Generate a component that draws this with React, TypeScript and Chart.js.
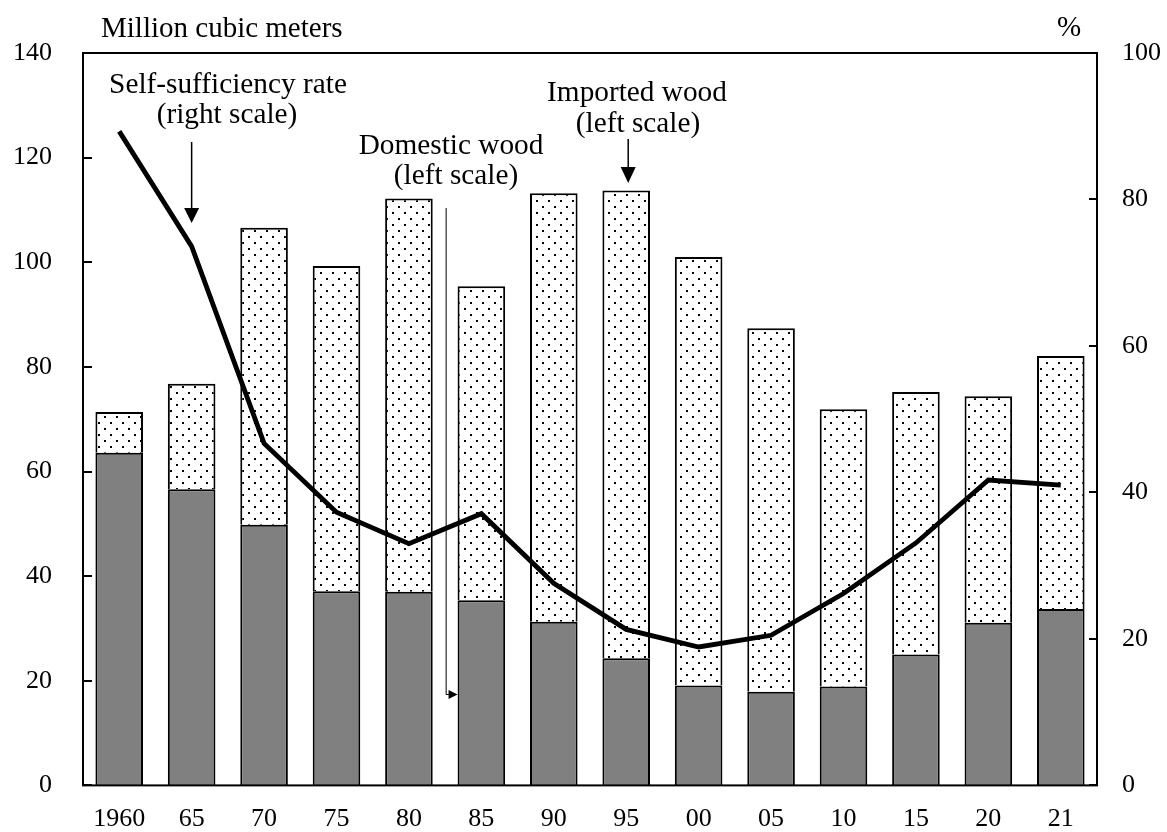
import React, { useEffect, useRef } from "react";
import { Chart, registerables } from "chart.js";

Chart.register(...registerables);

// ---- Data ----
const years = ["1960", "65", "70", "75", "80", "85", "90", "95", "00", "05", "10", "15", "20", "21"];
const domesticWood = [63.6, 56.6, 49.8, 37.1, 37.0, 35.4, 31.3, 24.3, 19.1, 17.9, 18.9, 25.0, 31.1, 33.7];
const importedWood = [7.8, 20.2, 56.8, 62.2, 75.2, 60.0, 81.9, 89.4, 81.9, 69.5, 53.0, 50.2, 43.3, 48.4];
const selfSufficiencyRate = [89.3, 73.6, 46.7, 37.3, 33.0, 37.1, 27.6, 21.3, 18.9, 20.5, 26.2, 33.1, 41.7, 41.0];
const leftAxis = { min: 0, max: 140, step: 20 };
const rightAxis = { min: 0, max: 100, step: 20 };
const leftUnit = "Million cubic meters";
const rightUnit = "%";

const FONT = "'Liberation Serif', 'Times New Roman', serif";

function makePattern(): CanvasPattern | string {
  const pc = document.createElement("canvas");
  pc.width = 12;
  pc.height = 12;
  const p = pc.getContext("2d");
  if (!p) return "#fff";
  p.fillStyle = "#fff";
  p.fillRect(0, 0, 12, 12);
  p.fillStyle = "#000";
  p.fillRect(2, 2, 2, 2);
  p.fillRect(8, 8, 2, 2);
  const pat = p.createPattern(pc, "repeat");
  return pat || "#fff";
}

function arrowDown(ctx: CanvasRenderingContext2D, x: number, y0: number, y1: number, lw: number, hw: number, hh: number) {
  ctx.lineWidth = lw;
  ctx.beginPath();
  ctx.moveTo(x, y0);
  ctx.lineTo(x, y1 - hh + 1);
  ctx.stroke();
  ctx.beginPath();
  ctx.moveTo(x - hw / 2, y1 - hh);
  ctx.lineTo(x + hw / 2, y1 - hh);
  ctx.lineTo(x, y1);
  ctx.closePath();
  ctx.fill();
}

const framePlugin = {
  id: "frameAndNotes",
  afterDatasetsDraw(chart: any) {
    const { ctx, chartArea: a, scales } = chart;
    ctx.save();
    ctx.strokeStyle = "#000";
    ctx.fillStyle = "#000";
    ctx.lineWidth = 2;
    ctx.strokeRect(a.left, a.top, a.right - a.left, a.bottom - a.top);
    // inward tick marks
    ctx.beginPath();
    for (const t of scales.y.ticks) {
      const py = Math.round(scales.y.getPixelForValue(t.value));
      ctx.moveTo(a.left, py);
      ctx.lineTo(a.left + 9, py);
    }
    for (const t of scales.y1.ticks) {
      const py = Math.round(scales.y1.getPixelForValue(t.value));
      ctx.moveTo(a.right, py);
      ctx.lineTo(a.right - 8, py);
    }
    ctx.stroke();

    // unit labels
    ctx.font = `29px ${FONT}`;
    ctx.textBaseline = "alphabetic";
    ctx.textAlign = "left";
    ctx.fillText(leftUnit, 101, 37);
    ctx.textAlign = "center";
    ctx.fillText(rightUnit, 1069, 36);

    // annotations
    const x = scales.x;
    const yl = scales.y;
    ctx.font = `29.3px ${FONT}`;
    ctx.textAlign = "center";
    ctx.fillText("Self-sufficiency rate", 228, 93);
    ctx.fillText("(right scale)", 227, 123);
    ctx.fillText("Domestic wood", 451, 154);
    ctx.fillText("(left scale)", 456, 184);
    ctx.fillText("Imported wood", 637, 101);
    ctx.fillText("(left scale)", 638, 132);

    // arrow: self-sufficiency
    const x65 = x.getPixelForValue(1);
    arrowDown(ctx, x65, 142, 223, 1.5, 15, 15);
    // arrow: imported
    const x95 = x.getPixelForValue(7);
    arrowDown(ctx, x95 + 2, 139, 183, 1.5, 15, 16);
    // arrow: domestic (line down, then right)
    const xm = (x.getPixelForValue(4) + x.getPixelForValue(5)) / 2 + 1;
    const barHalf = (x.getPixelForValue(5) - x.getPixelForValue(4)) * 0.657 / 2;
    const tipX = x.getPixelForValue(5) - barHalf;
    const yArrow = Math.round(yl.getPixelForValue(17.4)) + 0.5;
    ctx.lineWidth = 1;
    ctx.beginPath();
    ctx.moveTo(xm, 208);
    ctx.lineTo(xm, yArrow);
    ctx.lineTo(tipX - 8, yArrow);
    ctx.stroke();
    ctx.beginPath();
    ctx.moveTo(tipX - 9, yArrow - 4.5);
    ctx.lineTo(tipX - 9, yArrow + 4.5);
    ctx.lineTo(tipX, yArrow);
    ctx.closePath();
    ctx.fill();
    ctx.restore();
  },
};

export default function App() {
  const ref = useRef<HTMLCanvasElement | null>(null);

  useEffect(() => {
    if (!ref.current) return;
    const pattern = makePattern();
    const chart = new Chart(ref.current, {
      type: "bar",
      data: {
        labels: years,
        datasets: [
          {
            type: "line",
            label: "Self-sufficiency rate",
            data: selfSufficiencyRate,
            yAxisID: "y1",
            borderColor: "#000",
            borderWidth: 4.8,
            pointRadius: 0,
            tension: 0,
            fill: false,
            order: 0,
          } as any,
          {
            type: "bar",
            label: "Domestic wood",
            data: domesticWood,
            yAxisID: "y",
            backgroundColor: "#808080",
            borderColor: "#000",
            borderWidth: 2,
            barPercentage: 0.657,
            categoryPercentage: 1,
            order: 1,
          },
          {
            type: "bar",
            label: "Imported wood",
            data: importedWood,
            yAxisID: "y",
            backgroundColor: pattern as any,
            borderColor: "#000",
            borderWidth: 2,
            barPercentage: 0.657,
            categoryPercentage: 1,
            order: 1,
          },
        ],
      },
      options: {
        responsive: false,
        animation: false,
        layout: { padding: { top: 53, left: 0, right: 0, bottom: 0 } },
        plugins: {
          legend: { display: false },
          tooltip: { enabled: false },
          title: { display: false },
        },
        scales: {
          x: {
            stacked: true,
            grid: { display: false, drawTicks: false },
            border: { display: false },
            ticks: {
              color: "#000",
              font: { family: FONT, size: 26 },
              padding: 18,
              maxRotation: 0,
              autoSkip: false,
            },
            afterFit: (s: any) => {
              s.height = 44;
            },
          },
          y: {
            stacked: true,
            position: "left",
            min: leftAxis.min,
            max: leftAxis.max,
            grid: { display: false, drawTicks: false },
            border: { display: false },
            ticks: {
              stepSize: leftAxis.step,
              color: "#000",
              font: { family: FONT, size: 26 },
              padding: 31,
            },
            afterFit: (s: any) => {
              s.width = 83;
            },
          },
          y1: {
            position: "right",
            min: rightAxis.min,
            max: rightAxis.max,
            grid: { display: false, drawTicks: false },
            border: { display: false },
            ticks: {
              stepSize: rightAxis.step,
              color: "#000",
              font: { family: FONT, size: 26 },
              padding: 25,
            },
            afterFit: (s: any) => {
              s.width = 70;
            },
          },
        },
      },
      plugins: [framePlugin],
    });
    return () => chart.destroy();
  }, []);

  return (
    <div style={{ position: "absolute", left: 0, top: 0, width: 1167, height: 832, background: "#fff" }}>
      <canvas ref={ref} width={1167} height={832} style={{ display: "block" }} />
    </div>
  );
}
